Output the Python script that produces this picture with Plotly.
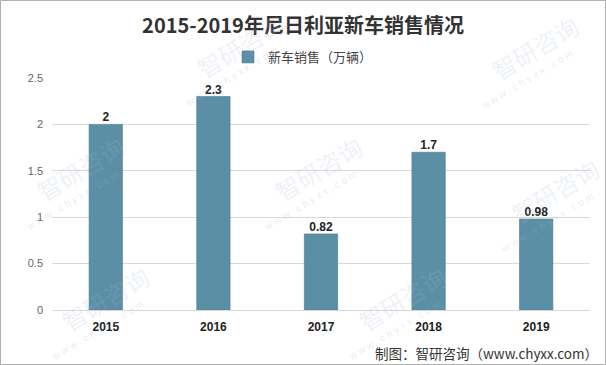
import plotly.graph_objects as go

years = ["2015", "2016", "2017", "2018", "2019"]
sales = [2, 2.3, 0.82, 1.7, 0.98]
value_labels = ["2", "2.3", "0.82", "1.7", "0.98"]
y_ticks = [0, 0.5, 1, 1.5, 2, 2.5]
y_tick_labels = ["0", "0.5", "1", "1.5", "2", "2.5"]

bar_color = "#5B8FA6"
font_family = "Noto Sans CJK SC, Liberation Sans, sans-serif"

L, R, T, B = 52, 16, 78, 55
PW, PH = 606 - L - R, 365 - T - B


def px_x(x):
    return (x - L) / PW


def px_y(y):
    return (365 - B - y) / PH


fig = go.Figure()
fig.add_trace(go.Bar(
    x=years, y=sales, name="新车销售（万辆）",
    marker=dict(color=bar_color, line=dict(color="#4A7A90", width=0.6)),
    hoverinfo="skip",
))
fig.add_trace(go.Scatter(
    x=years, y=sales, mode="text", text=value_labels, textposition="top center",
    marker=dict(size=17, color="rgba(0,0,0,0)"),
    textfont=dict(family="Liberation Sans, sans-serif", size=12, color="#222222", weight="bold"),
    showlegend=False, hoverinfo="skip", cliponaxis=False,
))

annotations = []
# faint watermarks
wm_centers = [(240, 45), (80, 168), (318, 168), (105, 298), (535, 48), (402, 298), (555, 190)]
for cx, cy in wm_centers:
    annotations.append(dict(text="智研咨询", xref="paper", yref="paper", x=px_x(cx), y=px_y(cy),
                            xanchor="center", yanchor="middle",
                            showarrow=False, textangle=-31,
                            font=dict(family=font_family, size=24, color="rgba(165,185,210,0.2)")))
    annotations.append(dict(text="w w w . c h y x x . c o m", xref="paper", yref="paper",
                            x=px_x(cx - 8), y=px_y(cy + 32), xanchor="center", yanchor="middle",
                            showarrow=False, textangle=-31,
                            font=dict(family="Liberation Sans, sans-serif", size=10,
                                      color="rgba(165,185,210,0.28)")))

annotations.append(dict(text="制图：智研咨询（www.chyxx.com）", xref="paper", yref="paper",
                        x=px_x(600), xanchor="right", y=px_y(353), yanchor="middle",
                        showarrow=False,
                        font=dict(family=font_family, size=13.5, color="#333333")))

fig.update_layout(
    width=606, height=365, autosize=False,
    margin=dict(l=L, r=R, t=T, b=B, autoexpand=False),
    paper_bgcolor="white", plot_bgcolor="white",
    font=dict(family=font_family, color="#444444"),
    title=dict(text="2015-2019年尼日利亚新车销售情况", x=303 / 606, xanchor="center",
               xref="container", yref="container",
               y=1 - 26 / 365, yanchor="middle",
               font=dict(family=font_family, size=20, color="#333333", weight="bold")),
    showlegend=True,
    legend=dict(orientation="h", x=px_x(303), xanchor="center", y=px_y(57), yanchor="middle",
                font=dict(size=13, color="#444444"), itemwidth=30),
    bargap=0.69,
    xaxis=dict(type="category",
               tickfont=dict(family="Liberation Sans, sans-serif", size=12, color="#222222", weight="bold"),
               showline=False, ticks="", showgrid=False, automargin=False, ticklabelstandoff=8),
    yaxis=dict(range=[0, 2.5], tickvals=y_ticks, ticktext=y_tick_labels,
               showgrid=True, gridcolor="#D9D9D9", gridwidth=1, zeroline=True,
               zerolinecolor="#D9D9D9", zerolinewidth=1,
               tickfont=dict(family="Liberation Sans, sans-serif", size=11, color="#666666"),
               ticks="", ticklabelstandoff=8, automargin=False),
    shapes=[dict(type="rect", xref="paper", yref="paper", x0=-(L - 0.5) / PW, x1=1 + (R - 0.5) / PW,
                 y0=-(B - 0.5) / PH, y1=1 + (T - 0.5) / PH, line=dict(color="#B0B0B0", width=1))],
    annotations=annotations,
)

fig.write_html("out.html", config={"displayModeBar": False},
               post_script="document.body.style.margin='0';document.body.style.overflow='hidden';")
